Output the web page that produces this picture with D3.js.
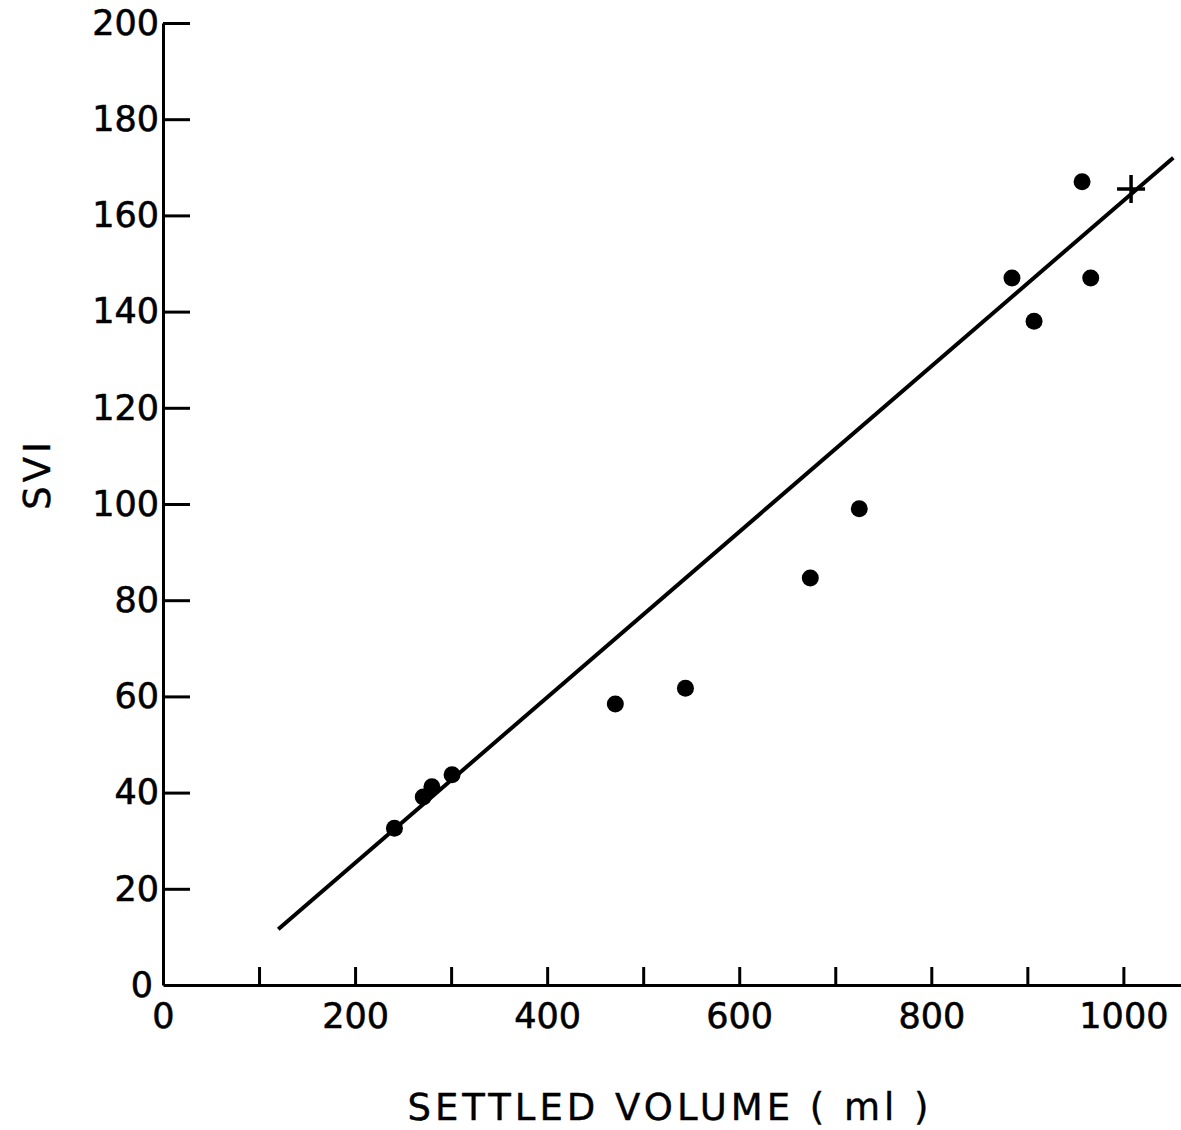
<!DOCTYPE html>
<html>
<head>
<meta charset="utf-8">
<script src="https://cdn.jsdelivr.net/npm/d3@7"></script>
<style>
  body { margin: 0; background: #fff; }
  .axis text { font-family: "DejaVu Sans", sans-serif; font-size: 35px; fill: #000; stroke: #000; stroke-width: 0.6px; }
  .axis path, .axis line { stroke: #000; stroke-width: 3; }
  .label { font-family: "DejaVu Sans", sans-serif; font-size: 37px; fill: #000; stroke: #000; stroke-width: 0.4px; }
</style>
</head>
<body>
<div id="wrapper"></div>
<script>
// data
const volume = [241, 271, 280, 301, 471, 544, 674, 725, 884, 907, 957, 966]
const svi    = [32.6, 39.1, 41.2, 43.7, 58.4, 61.7, 84.6, 99, 147, 138, 167, 147]
const crossPoint = [1008, 165.5]
const fitLine = [[120, 11.6], [1052, 172]]
const xTicks = [0, 100, 200, 300, 400, 500, 600, 700, 800, 900, 1000]
const xTickLabels = ["0", "", "200", "", "400", "", "600", "", "800", "", "1000"]
const yTicks = [0, 20, 40, 60, 80, 100, 120, 140, 160, 180, 200]

const points = volume.map((v, i) => ({ x: v, y: svi[i] }))

const width = 1181
const height = 1130
const margin = { top: 23, right: 0, bottom: 145, left: 163 }

const svg = d3.select("#wrapper")
  .append("svg")
    .attr("width", width)
    .attr("height", height)

const xScale = d3.scaleLinear()
  .domain([0, 1060])
  .range([margin.left, width - margin.right])

const yScale = d3.scaleLinear()
  .domain([0, 200])
  .range([height - margin.bottom, margin.top])

// axes
const xAxis = svg.append("g")
    .attr("class", "axis")
    .attr("transform", `translate(0, ${yScale(0)})`)
    .call(d3.axisBottom(xScale)
      .tickValues(xTicks)
      .tickFormat((d, i) => xTickLabels[i])
      .tickSizeInner(-18)
      .tickSizeOuter(0)
      .tickPadding(17))
xAxis.selectAll(".tick").filter(d => d === 0).select("line").remove()
xAxis.selectAll("text").attr("dy", "0.75em")

const yAxis = svg.append("g")
    .attr("class", "axis")
    .attr("transform", `translate(${xScale(0)}, 0)`)
    .call(d3.axisLeft(yScale)
      .tickValues(yTicks)
      .tickSizeInner(-27)
      .tickSizeOuter(0)
      .tickPadding(4))
yAxis.selectAll(".tick").filter(d => d === 0).select("line").remove()
yAxis.selectAll(".tick").filter(d => d === 0).select("text").attr("x", -10)

// fitted line
svg.append("line")
    .attr("x1", xScale(fitLine[0][0]))
    .attr("y1", yScale(fitLine[0][1]))
    .attr("x2", xScale(fitLine[1][0]))
    .attr("y2", yScale(fitLine[1][1]))
    .attr("stroke", "#000")
    .attr("stroke-width", 4)

// data points
svg.append("g")
  .selectAll("circle")
  .data(points)
  .join("circle")
    .attr("cx", d => xScale(d.x))
    .attr("cy", d => yScale(d.y))
    .attr("r", 8.5)
    .attr("fill", "#000")

// cross marker
const cx = xScale(crossPoint[0])
const cy = yScale(crossPoint[1])
svg.append("path")
    .attr("d", `M${cx - 14},${cy}H${cx + 14}M${cx},${cy - 14}V${cy + 14}`)
    .attr("stroke", "#000")
    .attr("stroke-width", 3.5)
    .attr("fill", "none")

// labels
svg.append("text")
    .attr("class", "label")
    .attr("x", 670)
    .attr("y", 1120)
    .attr("text-anchor", "middle")
    .style("letter-spacing", "4px")
    .text("SETTLED VOLUME ( ml )")

svg.append("text")
    .attr("class", "label")
    .attr("transform", `translate(50, 474) rotate(-90)`)
    .attr("text-anchor", "middle")
    .style("letter-spacing", "4px")
    .text("SVI")
</script>
</body>
</html>
